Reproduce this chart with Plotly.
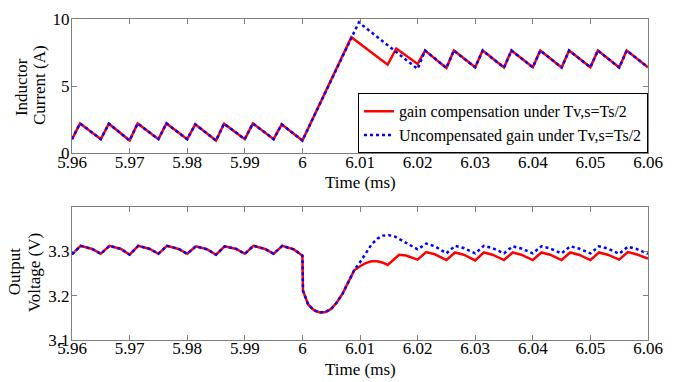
import plotly.graph_objects as go

# ---------------- data ----------------
# Inductor current (A)
t_i_pre = [5.96, 5.9614, 5.965, 5.9664, 5.970, 5.9714, 5.975, 5.9764, 5.980, 5.9814,
           5.985, 5.9864, 5.990, 5.9914, 5.995, 5.9964, 6.000]
i_pre = [1.05, 2.22, 1.05, 2.20, 0.95, 2.22, 1.05, 2.22, 1.05, 2.15,
         0.95, 2.20, 1.05, 2.22, 1.05, 2.15, 0.95]

t_i_comp = [6.0085, 6.0148, 6.0163, 6.0200, 6.0213, 6.025, 6.0263, 6.030, 6.0313, 6.035,
            6.0363, 6.040, 6.0413, 6.045, 6.0463, 6.050, 6.0513, 6.055, 6.0563, 6.060]
i_comp = [8.64, 6.60, 7.80, 6.65, 7.65, 6.35, 7.65, 6.40, 7.65, 6.38,
          7.65, 6.40, 7.65, 6.38, 7.65, 6.40, 7.65, 6.38, 7.65, 6.40]

t_i_unc = [6.0098, 6.0200, 6.0213, 6.025, 6.0263, 6.030, 6.0313, 6.035,
           6.0363, 6.040, 6.0413, 6.045, 6.0463, 6.050, 6.0513, 6.055, 6.0563, 6.060]
i_unc = [9.75, 6.28, 7.65, 6.35, 7.65, 6.40, 7.65, 6.38,
         7.65, 6.40, 7.65, 6.38, 7.65, 6.40, 7.65, 6.38, 7.65, 6.40]

# Output voltage (V)
t_v_pre = [5.96, 5.9615, 5.9635, 5.965, 5.9665, 5.9685, 5.970, 5.9715, 5.9735, 5.975,
           5.9765, 5.9785, 5.980, 5.9815, 5.9835, 5.985, 5.9865, 5.9885, 5.990,
           5.9915, 5.9935, 5.995, 5.9965, 5.9985, 6.000,
           6.0001, 6.001, 6.002, 6.003, 6.004, 6.005, 6.006, 6.007, 6.008, 6.009]
v_pre = [3.293, 3.312, 3.305, 3.294, 3.312, 3.305, 3.292, 3.312, 3.305, 3.294,
         3.312, 3.305, 3.294, 3.311, 3.304, 3.292, 3.311, 3.305, 3.294,
         3.312, 3.305, 3.294, 3.312, 3.304, 3.290,
         3.211, 3.180, 3.167, 3.162, 3.163, 3.170, 3.185, 3.205, 3.232, 3.257]

t_v_comp = [6.010, 6.011, 6.012, 6.013, 6.014, 6.0148, 6.0168, 6.018, 6.020,
            6.0215, 6.023, 6.025, 6.0265, 6.028, 6.030, 6.0315, 6.033, 6.035,
            6.0365, 6.038, 6.040, 6.0415, 6.043, 6.045, 6.0465, 6.048, 6.050,
            6.0515, 6.053, 6.055, 6.0565, 6.058, 6.060]
v_comp = [3.266, 3.273, 3.277, 3.277, 3.274, 3.269, 3.292, 3.290, 3.281,
          3.298, 3.293, 3.280, 3.297, 3.292, 3.279, 3.297, 3.292, 3.280,
          3.297, 3.292, 3.280, 3.297, 3.292, 3.280, 3.297, 3.292, 3.280,
          3.297, 3.292, 3.281, 3.298, 3.293, 3.283]

t_v_unc = [6.010, 6.011, 6.012, 6.013, 6.014, 6.015, 6.016, 6.017, 6.018, 6.019, 6.020,
           6.0215, 6.023, 6.025, 6.0265, 6.028, 6.030, 6.0315, 6.033, 6.035,
           6.0365, 6.038, 6.040, 6.0415, 6.043, 6.045, 6.0465, 6.048, 6.050,
           6.0515, 6.053, 6.055, 6.0565, 6.058, 6.060]
v_unc = [3.275, 3.295, 3.315, 3.328, 3.335, 3.336, 3.333, 3.326, 3.318, 3.310, 3.304,
         3.317, 3.311, 3.295, 3.312, 3.307, 3.295, 3.312, 3.307, 3.295,
         3.311, 3.306, 3.295, 3.311, 3.306, 3.295, 3.311, 3.306, 3.295,
         3.311, 3.306, 3.294, 3.310, 3.305, 3.294]

x_ticks = [5.96, 5.97, 5.98, 5.99, 6.0, 6.01, 6.02, 6.03, 6.04, 6.05, 6.06]
x_tick_labels = ["5.96", "5.97", "5.98", "5.99", "6", "6.01", "6.02", "6.03", "6.04", "6.05", "6.06"]
i_ticks = [0, 5, 10]
v_ticks = [3.1, 3.2, 3.3]
v_tick_labels = ["3.1", "3.2", "3.3"]

name_comp = "gain compensation under Tv,s=Ts/2"
name_unc = "Uncompensated gain under Tv,s=Ts/2"

# ---------------- figure ----------------
RED = "#ff0000"
BLUE = "#0000ff"
FONT = "Liberation Serif"

fig = go.Figure()

# top panel
fig.add_trace(go.Scatter(x=t_i_pre + t_i_comp, y=i_pre + i_comp, mode="lines",
                         line=dict(color=RED, width=2.5), name=name_comp,
                         xaxis="x", yaxis="y"))
fig.add_trace(go.Scatter(x=t_i_pre + t_i_unc, y=i_pre + i_unc, mode="lines",
                         line=dict(color=BLUE, width=2.5, dash="dot"), name=name_unc,
                         xaxis="x", yaxis="y"))
# bottom panel
fig.add_trace(go.Scatter(x=t_v_pre + t_v_comp, y=v_pre + v_comp, mode="lines",
                         line=dict(color=RED, width=2.5), showlegend=False,
                         xaxis="x2", yaxis="y2"))
fig.add_trace(go.Scatter(x=t_v_pre + t_v_unc, y=v_pre + v_unc, mode="lines",
                         line=dict(color=BLUE, width=2.5, dash="dot"), showlegend=False,
                         xaxis="x2", yaxis="y2"))

axis_common = dict(showline=True, linecolor="#808080", linewidth=1, mirror="ticks",
                   ticks="inside", ticklen=5, tickcolor="#808080", showgrid=False,
                   zeroline=False, tickfont=dict(family=FONT, size=17, color="black"))

TOP_DOM = [0.5818, 1]
BOT_DOM = [0, 0.4152]

fig.update_layout(
    width=685, height=382,
    margin=dict(l=72, r=37, t=10, b=42),
    paper_bgcolor="white", plot_bgcolor="white",
    font=dict(family=FONT, size=17, color="black"),
    xaxis=dict(domain=[0, 1], anchor="y", range=[5.96, 6.06], tickvals=x_ticks,
               ticktext=x_tick_labels, ticklabelstandoff=-7, **axis_common),
    yaxis=dict(domain=TOP_DOM, anchor="x", range=[0, 10], tickvals=i_ticks,
               ticklabelstandoff=-2, **axis_common),
    xaxis2=dict(domain=[0, 1], anchor="y2", range=[5.96, 6.06], tickvals=x_ticks,
                ticktext=x_tick_labels, ticklabelstandoff=-7, **axis_common),
    yaxis2=dict(domain=BOT_DOM, anchor="x2", range=[3.1, 3.4], tickvals=v_ticks,
                ticktext=v_tick_labels, ticklabelstandoff=-2, **axis_common),
    legend=dict(x=1, y=TOP_DOM[0], xanchor="right", yanchor="bottom",
                bordercolor="black", borderwidth=1, bgcolor="white",
                font=dict(family=FONT, size=16, color="black"),
                tracegroupgap=0, itemwidth=30),
    showlegend=True,
)


def label(text, x, y, xshift=0, yshift=0, angle=0):
    return dict(text=text, x=x, y=y, xref="paper", yref="paper",
                xanchor="center", yanchor="middle", xshift=xshift, yshift=yshift,
                showarrow=False, textangle=angle, font=dict(family=FONT, size=17))


top_mid = (TOP_DOM[0] + TOP_DOM[1]) / 2
bot_mid = (BOT_DOM[0] + BOT_DOM[1]) / 2
annotations = [
    label("Time (ms)", 0.5, TOP_DOM[0], yshift=-29),
    label("Time (ms)", 0.5, BOT_DOM[0], yshift=-29),
    label("Inductor", 0, top_mid, xshift=-51, yshift=-1, angle=-90),
    label("Current (A)", 0, top_mid, xshift=-33, yshift=1, angle=-90),
    label("Output", 0, bot_mid, xshift=-58, yshift=2, angle=-90),
    label("Voltage (V)", 0, bot_mid, xshift=-38, angle=-90),
]
fig.update_layout(annotations=annotations)

# remove the default 8px page margin so the figure sits at the window's corner
fig.write_html("out.html", config={"displayModeBar": False},
               post_script="document.body.style.margin='0';")
